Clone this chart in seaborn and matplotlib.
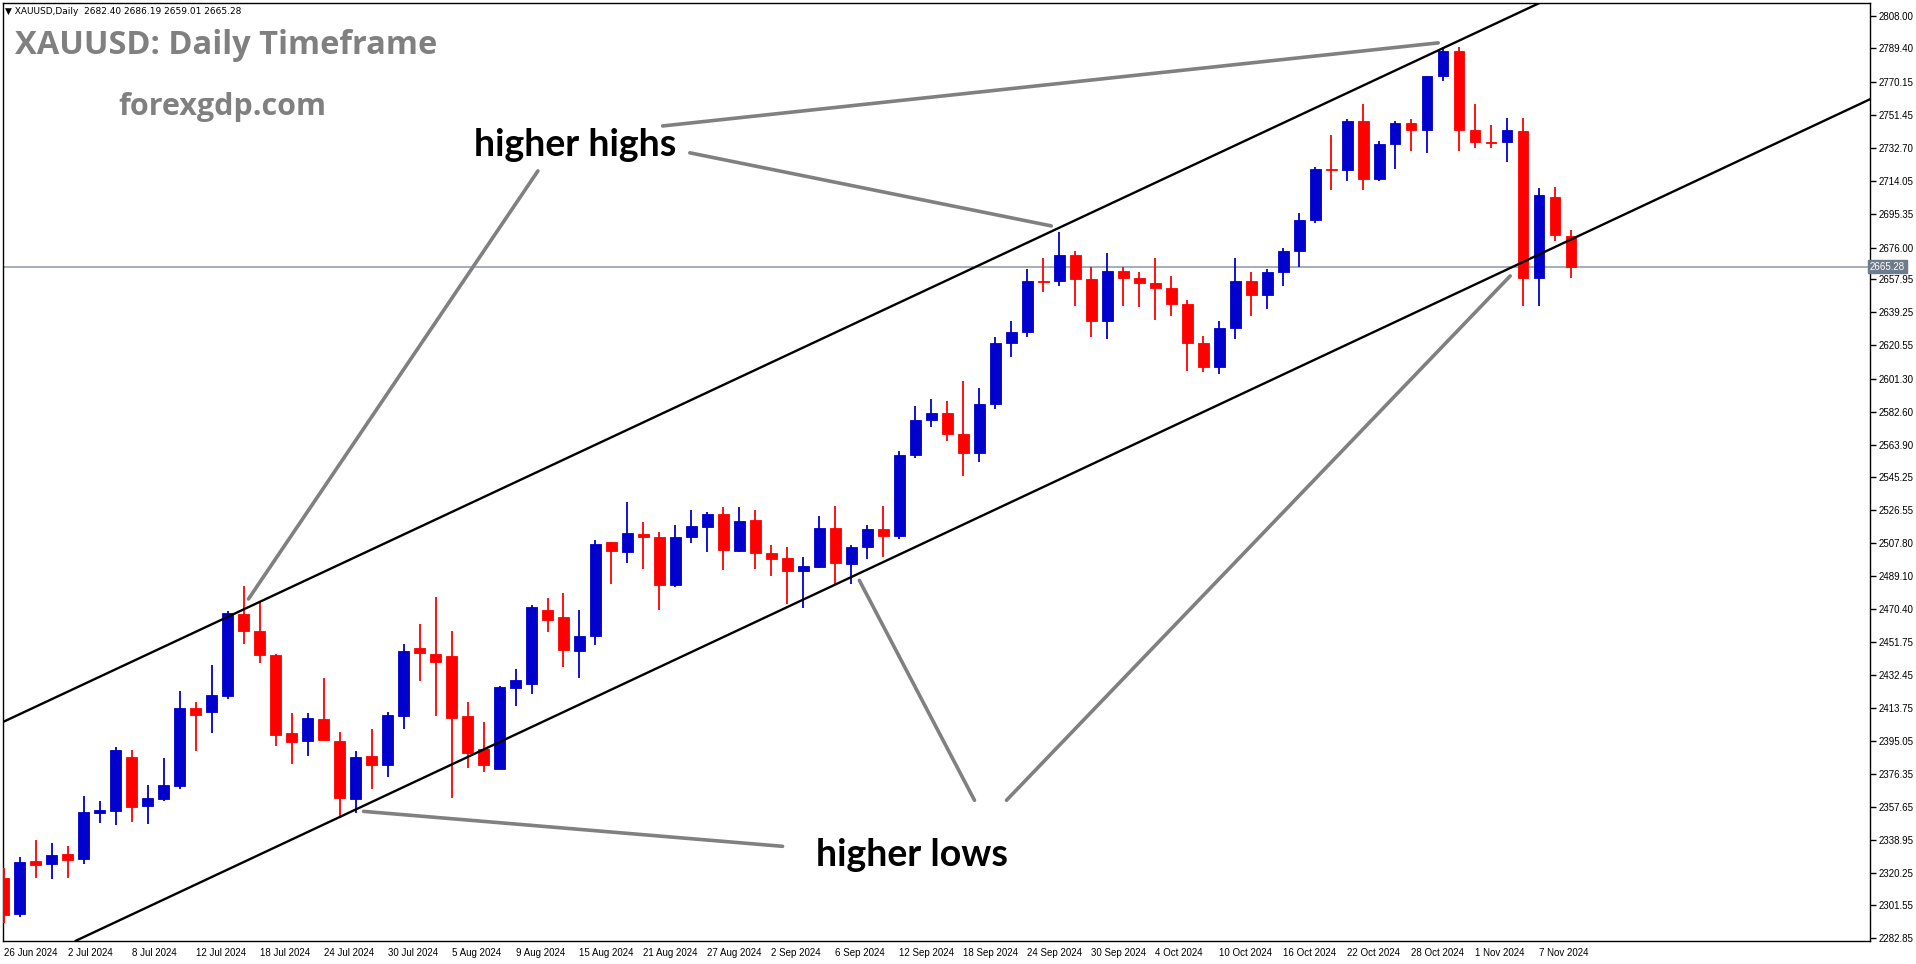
import numpy as np
import pandas as pd
import matplotlib
matplotlib.use("Agg")
import matplotlib.pyplot as plt
import seaborn as sns

# ---------------- data ----------------
opens = [2317.4, 2296.5, 2326.6, 2325.0, 2331.1, 2327.9, 2354.2, 2355.1, 2386.0, 2358.2,
         2362.2, 2369.6, 2414.0, 2411.9, 2420.9, 2467.7, 2458.0, 2444.3, 2399.7, 2395.3,
         2407.7, 2395.2, 2362.2, 2386.6, 2381.6, 2409.6, 2448.3, 2444.9, 2443.7, 2409.4,
         2390.6, 2379.3, 2425.6, 2427.4, 2470.0, 2465.5, 2446.2, 2454.8, 2508.3, 2502.8,
         2512.9, 2511.2, 2483.7, 2511.4, 2517.1, 2524.5, 2503.2, 2520.9, 2502.0, 2499.2,
         2491.9, 2494.0, 2516.3, 2495.9, 2505.5, 2516.0, 2512.0, 2558.0, 2578.0, 2582.0,
         2570.0, 2559.0, 2587.0, 2622.0, 2628.0, 2657.0, 2657.0, 2672.0, 2658.0, 2634.0,
         2663.0, 2659.0, 2656.0, 2653.0, 2644.0, 2622.0, 2608.0, 2630.0, 2657.0, 2649.0,
         2662.0, 2674.0, 2692.0, 2721.0, 2720.0, 2748.0, 2715.0, 2735.0, 2747.0, 2743.0,
         2774.0, 2788.0, 2743.0, 2736.0, 2736.0, 2742.5, 2659.0, 2704.9, 2682.40]
highs = [2322.7, 2329.4, 2338.6, 2336.9, 2335.1, 2363.7, 2361.2, 2391.7, 2390.0, 2370.0,
         2385.4, 2423.7, 2417.4, 2438.6, 2469.0, 2483.2, 2474.2, 2444.9, 2411.2, 2411.2,
         2431.2, 2400.3, 2389.4, 2402.2, 2411.5, 2450.2, 2461.5, 2477.1, 2458.0, 2417.4,
         2406.2, 2426.6, 2436.3, 2472.3, 2476.5, 2479.2, 2469.6, 2509.5, 2508.7, 2531.4,
         2520.0, 2514.0, 2518.0, 2526.4, 2525.3, 2528.3, 2528.3, 2526.6, 2506.6, 2505.5,
         2499.8, 2523.2, 2529.1, 2506.8, 2518.0, 2529.0, 2560.0, 2586.0, 2590.0, 2589.0,
         2600.0, 2596.0, 2625.0, 2634.0, 2664.0, 2670.0, 2685.0, 2674.0, 2665.0, 2673.0,
         2665.0, 2662.0, 2670.0, 2660.0, 2646.0, 2626.0, 2634.0, 2670.0, 2662.0, 2664.0,
         2676.0, 2696.0, 2722.0, 2740.0, 2749.0, 2758.0, 2737.0, 2748.0, 2749.0, 2774.0,
         2790.0, 2790.0, 2758.0, 2746.0, 2750.0, 2749.9, 2709.9, 2710.6, 2686.19]
lows = [2291.3, 2294.7, 2317.0, 2316.5, 2317.0, 2325.0, 2348.5, 2347.3, 2349.0, 2347.9,
        2361.2, 2368.0, 2389.6, 2399.9, 2418.8, 2450.2, 2439.4, 2392.5, 2382.2, 2386.8,
        2395.0, 2351.3, 2354.2, 2367.9, 2374.8, 2402.2, 2429.1, 2409.6, 2362.8, 2379.9,
        2377.6, 2379.3, 2415.2, 2422.0, 2457.1, 2437.1, 2430.8, 2449.6, 2484.5, 2496.5,
        2493.1, 2469.6, 2483.0, 2507.9, 2502.8, 2492.5, 2502.5, 2493.1, 2489.1, 2473.3,
        2470.8, 2493.4, 2483.9, 2484.5, 2499.0, 2500.0, 2510.0, 2556.0, 2574.0, 2566.0,
        2546.0, 2554.0, 2584.0, 2614.0, 2625.0, 2651.0, 2654.0, 2643.0, 2625.0, 2624.0,
        2643.0, 2642.0, 2635.0, 2637.0, 2606.0, 2605.0, 2604.0, 2624.0, 2637.0, 2641.0,
        2654.0, 2665.0, 2690.0, 2709.0, 2714.0, 2709.0, 2714.0, 2721.0, 2731.0, 2730.0,
        2771.0, 2731.0, 2733.0, 2733.0, 2725.0, 2642.8, 2643.0, 2680.0, 2659.01]
closes = [2296.1, 2326.0, 2324.3, 2330.0, 2327.3, 2354.6, 2355.7, 2390.0, 2357.6, 2362.6,
          2370.0, 2414.0, 2410.2, 2421.4, 2467.9, 2457.6, 2443.9, 2398.8, 2394.8, 2408.3,
          2395.9, 2362.8, 2386.0, 2381.6, 2410.0, 2446.6, 2445.1, 2439.9, 2408.5, 2388.5,
          2381.6, 2426.0, 2430.0, 2471.4, 2463.9, 2446.8, 2455.2, 2507.2, 2503.4, 2513.5,
          2511.4, 2483.9, 2511.2, 2517.5, 2524.5, 2503.9, 2520.3, 2502.2, 2498.8, 2491.9,
          2494.6, 2516.3, 2496.5, 2505.5, 2515.8, 2512.0, 2558.0, 2578.0, 2582.0, 2570.0,
          2559.0, 2587.0, 2622.0, 2628.0, 2657.0, 2656.5, 2672.0, 2658.0, 2634.0, 2663.0,
          2659.0, 2656.0, 2653.0, 2644.0, 2622.0, 2608.0, 2630.0, 2657.0, 2649.0, 2662.0,
          2674.0, 2692.0, 2721.0, 2720.0, 2748.0, 2715.0, 2735.0, 2747.0, 2743.0, 2774.0,
          2788.0, 2743.0, 2736.0, 2735.5, 2743.0, 2658.8, 2706.0, 2683.3, 2665.28]

date_labels = ["26 Jun 2024", "2 Jul 2024", "8 Jul 2024", "12 Jul 2024", "18 Jul 2024",
               "24 Jul 2024", "30 Jul 2024", "5 Aug 2024", "9 Aug 2024", "15 Aug 2024",
               "21 Aug 2024", "27 Aug 2024", "2 Sep 2024", "6 Sep 2024", "12 Sep 2024",
               "18 Sep 2024", "24 Sep 2024", "30 Sep 2024", "4 Oct 2024", "10 Oct 2024",
               "16 Oct 2024", "22 Oct 2024", "28 Oct 2024", "1 Nov 2024", "7 Nov 2024"]
date_label_step = 4

price_ticks = [2808.00, 2789.40, 2770.15, 2751.45, 2732.70, 2714.05, 2695.35, 2676.00,
               2657.95, 2639.25, 2620.55, 2601.30, 2582.60, 2563.90, 2545.25, 2526.55,
               2507.80, 2489.10, 2470.40, 2451.75, 2432.45, 2413.75, 2395.05, 2376.35,
               2357.65, 2338.95, 2320.25, 2301.55, 2282.85]

bid_price = 2665.28
header = "XAUUSD,Daily  2682.40 2686.19 2659.01 2665.28"

# channel trend lines: two (bar, price) anchors each
upper_channel = [(0, 2406.2), (100, 2832.2)]
lower_channel = [(0, 2262.2), (100, 2689.2)]

# callouts: (text, (bar, price) text centre, list of ((bar, price) start, (bar, price) end))
callouts = [
    ("higher highs", (35.7, 2734.2),
     [((41.2, 2745.3), (89.7, 2792.6)),
      ((42.9, 2730.0), (65.5, 2688.4)),
      ((33.4, 2719.7), (15.3, 2476.0))]),
    ("higher lows", (56.8, 2330.3),
     [((48.7, 2335.2), (22.5, 2355.1)),
      ((60.7, 2361.4), (53.5, 2486.6)),
      ((62.7, 2361.4), (94.2, 2659.9))]),
]

# ---------------- styling ----------------
sns.set_theme(style="white")
plt.rcParams["font.family"] = ["Liberation Sans", "DejaVu Sans"]

BULL = "#0000CC"
BEAR = "#FF0000"

W, H, DPI = 1916, 964, 100
fig = plt.figure(figsize=(W / DPI, H / DPI), dpi=DPI)
fig.patch.set_facecolor("white")

ax_l, ax_r, ax_t, ax_b = 3, 1870, 3, 941
ax = fig.add_axes([ax_l / W, 1 - ax_b / H, (ax_r - ax_l) / W, (ax_b - ax_t) / H])
ax.set_facecolor("white")

df = pd.DataFrame({"open": opens, "high": highs, "low": lows, "close": closes})
df["idx"] = np.arange(len(df))
df["bull"] = df["close"] >= df["open"]
df["color"] = np.where(df["bull"], BULL, BEAR)
df["body_lo"] = df[["open", "close"]].min(axis=1)
df["body_h"] = (df["open"] - df["close"]).abs().clip(lower=0.35)

# wicks
ax.vlines(df["idx"], df["low"], df["high"], colors=df["color"], linewidth=1.3, zorder=3)
# bodies
ax.bar(df["idx"], df["body_h"], bottom=df["body_lo"], width=0.68, color=df["color"],
       edgecolor=df["color"], linewidth=0.6, zorder=4)

# bid line
ax.axhline(bid_price, color="#8C98A4", linewidth=1.1, zorder=2)

# channel lines
for ch in (upper_channel, lower_channel):
    ax.axline(ch[0], ch[1], color="black", linewidth=1.7, zorder=5)

# callouts
for text, pos, segs in callouts:
    for (x0, y0), (x1, y1) in segs:
        sns.lineplot(x=[x0, x1], y=[y0, y1], ax=ax, color="#808080", linewidth=2.6,
                     zorder=6, sort=False, estimator=None)
    ax.text(pos[0], pos[1], text, ha="center", va="center", fontsize=27,
            fontweight="bold", family=["Lato", "DejaVu Sans"], color="black", zorder=7)

# limits
ax.set_xlim(-0.05, 116.7)
ax.set_ylim(2281.3, 2815.3)

# axes frame
for s in ax.spines.values():
    s.set_color("black")
    s.set_linewidth(1.0)
    s.set_visible(True)

# x ticks
xt = list(range(0, len(date_labels) * date_label_step, date_label_step))
ax.set_xticks(xt)
ax.set_xticklabels(date_labels, ha="left", fontsize=7, color="black")
ax.tick_params(axis="x", direction="out", length=4, width=1, color="black", pad=1)

# y ticks on right
ax.yaxis.tick_right()
ax.set_yticks(price_ticks)
ax.set_yticklabels([f"{p:.2f}" for p in price_ticks], fontsize=7, color="black")
ax.tick_params(axis="y", direction="out", length=4, width=1, color="black", pad=2)
ax.grid(False)
ax.set_xlabel("")
ax.set_ylabel("")

# bid price label on axis
ax.text(1.0, bid_price, f"{bid_price:.2f}", transform=ax.get_yaxis_transform(),
        ha="left", va="center", fontsize=7, color="white", zorder=10,
        bbox=dict(boxstyle="square,pad=0.2", fc="#6E7B8B", ec="#6E7B8B"))

# header & titles
fig.text(5 / W, 1 - 12 / H, "\u25BC " + header, ha="left", va="center", fontsize=6.5,
         color="black", family=["DejaVu Sans"])
fig.text(15 / W, 1 - 45 / H, "XAUUSD: Daily Timeframe", ha="left", va="center",
         fontsize=23.5, fontweight="bold", color="#808080", family=["Open Sans", "DejaVu Sans"])
fig.text(118 / W, 1 - 107 / H, "forexgdp.com", ha="left", va="center",
         fontsize=22, fontweight="bold", color="#808080", family=["Open Sans", "DejaVu Sans"])

fig.savefig("out.png", dpi=DPI, facecolor="white")
